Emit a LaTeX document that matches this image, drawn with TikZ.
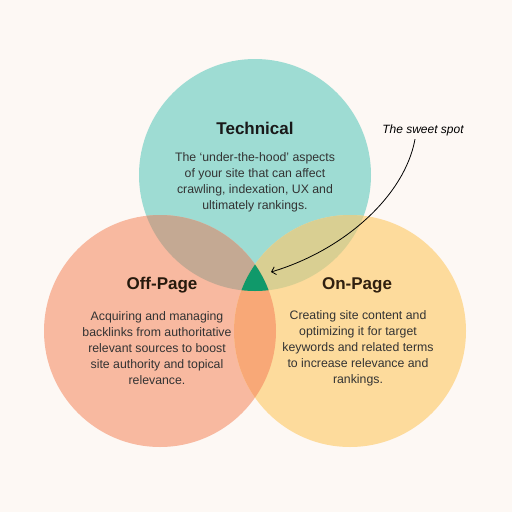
\documentclass[tikz,border=0pt]{standalone}
\usepackage{fontspec}
\setmainfont{Liberation Sans}
\usepackage{xcolor}
\usepackage{tikz}
\usetikzlibrary{arrows.meta}

\definecolor{cream}{HTML}{FDF8F4}
\definecolor{techteal}{HTML}{9EDCD3}
\definecolor{offsalmon}{HTML}{F8B9A0}
\definecolor{onyellow}{HTML}{FDDB9C}
\definecolor{techoff}{HTML}{C4A993}
\definecolor{techon}{HTML}{D9CF92}
\definecolor{offon}{HTML}{F8A877}
\definecolor{sweetgreen}{HTML}{10996A}
\definecolor{bodygray}{HTML}{333333}

\begin{document}
\begin{tikzpicture}
    [x=1pt,y=-1pt,
    title/.style={font=\fontsize{17}{20}\selectfont\bfseries,anchor=base},
    body/.style={font=\fontsize{12.3}{16}\selectfont,align=center,text=bodygray},
    note/.style={font=\fontsize{12}{14}\selectfont\itshape,text=black},
    arc/.style={-{Straight Barb[length=4pt,width=8pt]},line width=0.8pt}]

    \fill [cream] (0,0) rectangle (512,512);

    % circles
    \fill [techteal] (255,175) circle (116pt);
    \fill [offsalmon] (160,331) circle (116pt);
    \fill [onyellow] (350,331) circle (116pt);

    % overlaps
    \begin{scope}
      \clip (255,175) circle (116pt);
      \fill [techoff] (160,331) circle (116pt);
      \fill [techon] (350,331) circle (116pt);
    \end{scope}
    \begin{scope}
      \clip (160,331) circle (116pt);
      \fill [offon] (350,331) circle (116pt);
      \clip (350,331) circle (116pt);
      \fill [sweetgreen] (255,175) circle (116pt);
    \end{scope}

    \node (tech) [title,text=black!90] at (255,134) {Technical};
    \node (techtext) [body] at (255,182) {The ‘under-the-hood’ aspects\\of your site that can affect\\crawling, indexation, UX and\\ultimately rankings.};

    \node (off) [title,text=black!80!brown] at (162,289) {Off-Page};
    \node (offtext) [body] at (157,348) {Acquiring and managing\\backlinks from authoritative\\relevant sources to boost\\site authority and topical\\relevance.};

    \node (on) [title,text=black!75!brown] at (357,289) {On-Page};
    \node (ontext) [body] at (358,348) {Creating site content and\\optimizing it for target\\keywords and related terms\\to increase relevance and\\rankings.};

    \node (sweet) [note] at (423,130) {The sweet spot};
    \coordinate (spot) at (271,272);

    \draw [arc] ([xshift=-8pt]sweet.south) .. controls (405,195) and (345,250) .. (spot);
  \end{tikzpicture}
\end{document}
